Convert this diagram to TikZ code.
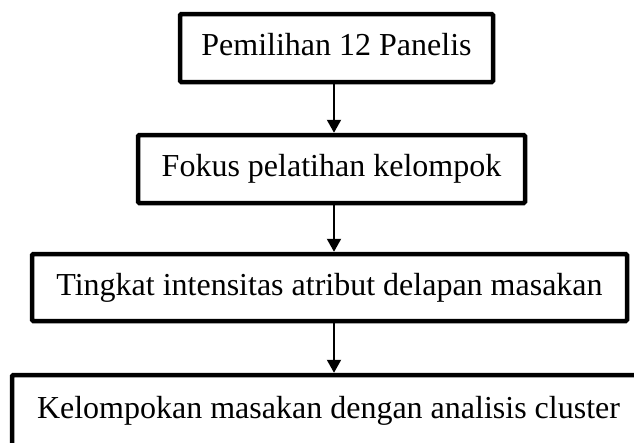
\documentclass[tikz,border=0pt]{standalone}
\usepackage{fontspec}
\setmainfont{Liberation Serif}
\usetikzlibrary{arrows.meta}
\begin{document}
\begin{tikzpicture}[x=1pt,y=1pt,
  boxnode/.style={draw=black, line width=4.5pt, rounded corners=1.2pt, fill=white,
    inner sep=0pt, font=\fontsize{32}{38}\selectfont, text height=22pt, text depth=7pt},
  arr/.style={line width=2pt, -{Triangle[width=14pt,length=13pt]}}]
\useasboundingbox (0,0) rectangle (634,-442);
\clip (0,0) rectangle (634,-442);
\node[boxnode, minimum width=313pt, minimum height=68pt] (b1) at (336.5,-48) {Pemilihan 12 Panelis};
\node[boxnode, minimum width=387pt, minimum height=68pt] (b2) at (331.5,-169) {Fokus pelatihan kelompok};
\node[boxnode, minimum width=595pt, minimum height=67pt] (b3) at (329.5,-287.5) {Tingkat intensitas atribut delapan masakan};
\node[boxnode, minimum width=633pt, minimum height=71pt] (b4) at (328.5,-410.5) {Kelompokan masakan dengan analisis cluster};
\coordinate (ax) at (334,0);
\draw[arr] (b1.south -| ax) -- (b2.north -| ax);
\draw[arr] (b2.south -| ax) -- (b3.north -| ax);
\draw[arr] (b3.south -| ax) -- (b4.north -| ax);
\end{tikzpicture}
\end{document}
